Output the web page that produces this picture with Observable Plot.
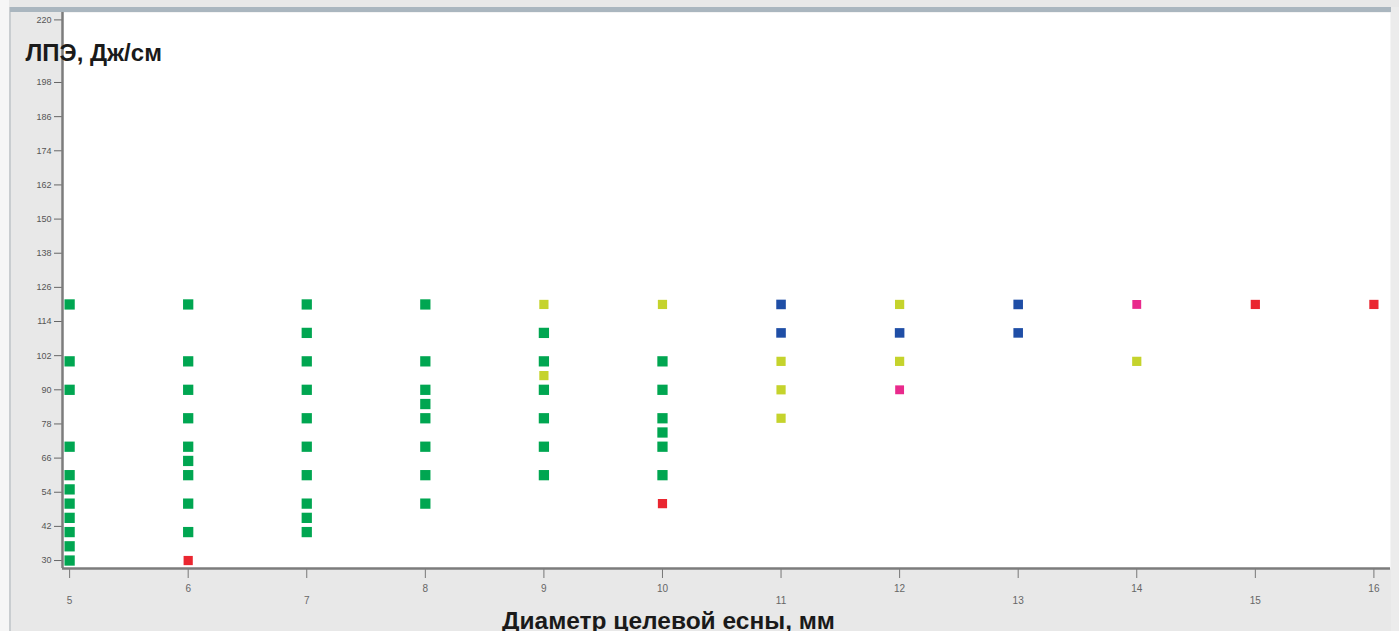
<!DOCTYPE html>
<html><head><meta charset="utf-8">
<script src="https://cdn.jsdelivr.net/npm/d3@7"></script>
<script src="https://cdn.jsdelivr.net/npm/@observablehq/plot@0.6"></script>
<style>
html,body{margin:0;padding:0;background:#fff;overflow:hidden;}
#wrap{position:relative;width:1399px;height:631px;}
#wrap svg{position:absolute;left:0;top:0;}
#band{position:absolute;left:10px;top:7px;width:1382px;height:5px;background:#aab6bf;}
#lb{position:absolute;left:9px;top:7px;width:2px;height:624px;background:#c9cdd0;}
#rb{position:absolute;left:1391px;top:7px;width:8px;height:624px;background:#ececec;}
#lw{position:absolute;left:0;top:0;width:9px;height:631px;background:#f6f6f6;}
</style></head><body><div id="wrap"></div>
<script>
// Data
const groups = ["A", "B", "C", "D", "E"];
const groupColors = ["#00a651", "#c5d32c", "#1f4ea6", "#e92a8c", "#ea2630"];
const groupSize = [5.8, 5.2, 5.4, 5.0, 5.2];

const diameter = [
  5,5,5,5,5,5,5,5,5,5,5,
  6,6,6,6,6,6,6,6,6,6,
  7,7,7,7,7,7,7,7,7,7,
  8,8,8,8,8,8,8,8,
  9,9,9,9,9,9,9,9,
  10,10,10,10,10,10,10,10,
  11,11,11,11,11,
  12,12,12,12,
  13,13,
  14,14,
  15,
  16
];
const energy = [
  120,100,90,70,60,55,50,45,40,35,30,
  120,100,90,80,70,65,60,50,40,30,
  120,110,100,90,80,70,60,50,45,40,
  120,100,90,85,80,70,60,50,
  120,110,100,95,90,80,70,60,
  120,100,90,80,75,70,60,50,
  120,110,100,90,80,
  120,110,100,90,
  120,110,
  120,100,
  120,
  120
];
const group = [
  "A","A","A","A","A","A","A","A","A","A","A",
  "A","A","A","A","A","A","A","A","A","E",
  "A","A","A","A","A","A","A","A","A","A",
  "A","A","A","A","A","A","A","A",
  "B","A","A","B","A","A","A","A",
  "B","A","A","A","A","A","A","E",
  "C","C","B","B","B",
  "B","C","B","D",
  "C","C",
  "D","B",
  "E",
  "E"
];

const xTicksLow = [5, 7, 11, 13, 15];
const xTicksHigh = [6, 8, 9, 10, 12, 14, 16];
const yTicks = [30, 42, 54, 66, 78, 90, 102, 114, 126, 138, 150, 162, 174, 186, 198, 220];

const yTitle = "ЛПЭ, Дж/см";
const xTitle = "Диаметр целевой есны, мм";

const data = diameter.map((d, i) => ({diameter: d, energy: energy[i], group: group[i]}));
const xDomain = [4.94, 16.14];
const yDomain = [27.2, 222.6];

const chart = Plot.plot({
  width: 1399,
  height: 631,
  marginLeft: 62,
  marginRight: 9,
  marginTop: 12,
  marginBottom: 63,
  style: {background: "#e8e8e8", fontFamily: "Liberation Sans, Arial, sans-serif", overflow: "visible"},
  x: {domain: xDomain, label: null},
  y: {domain: yDomain, label: null},
  r: {type: "identity"},
  color: {domain: groups, range: groupColors},
  marks: [
    Plot.frame({fill: "white", stroke: "none"}),
    Plot.axisY({ticks: yTicks, tickSize: 8, tickPadding: 3, fontSize: 9, color: "#555", stroke: "#666", tickFormat: d => String(d), label: null}),
    Plot.axisX({ticks: xTicksHigh, tickSize: 10, tickPadding: 6, fontSize: 10, color: "#666", stroke: "#777", tickFormat: d => String(d), label: null}),
    Plot.axisX({ticks: xTicksLow, tickSize: 10, tickPadding: 18, fontSize: 10, color: "#666", stroke: "#777", tickFormat: d => String(d), label: null}),
    Plot.ruleX([xDomain[0]], {stroke: "#7c7c7c", strokeWidth: 2.5}),
    Plot.ruleY([yDomain[0]], {stroke: "#7c7c7c", strokeWidth: 2.5}),
    Plot.dot(data, {x: "diameter", y: "energy", fill: "group", symbol: "square",
      r: d => groupSize[groups.indexOf(d.group)], stroke: "none"}),
    Plot.text([yTitle], {frameAnchor: "top-left", textAnchor: "start", lineAnchor: "bottom",
      dx: -37, dy: 48, fontSize: 24, fontWeight: "bold", fill: "#1a1a1a"}),
    Plot.text([xTitle], {frameAnchor: "bottom", textAnchor: "middle", lineAnchor: "bottom",
      dx: -58, dy: 60, fontSize: 24.5, fontWeight: "bold", fill: "#1a1a1a"})
  ]
});
chart.setAttribute("overflow", "visible");
const wrap = document.getElementById("wrap");
wrap.appendChild(chart);
["lw", "lb", "band", "rb"].forEach(id => { const d = document.createElement("div"); d.id = id; wrap.appendChild(d); });
</script>
</body></html>
